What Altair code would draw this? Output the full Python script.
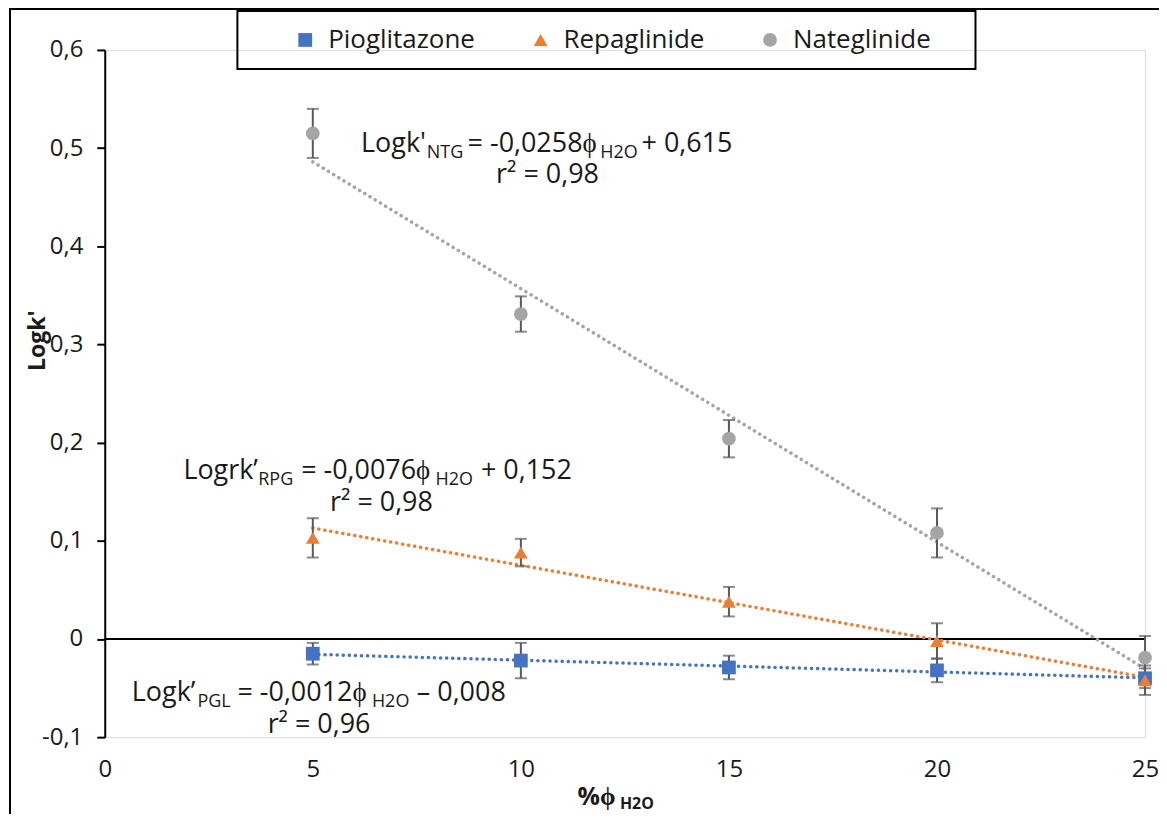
import altair as alt
import pandas as pd

# ---------------- data ----------------
phi = [5, 10, 15, 20, 25]
pgl = [-0.015, -0.022, -0.029, -0.032, -0.040]
pgl_err = [0.011, 0.018, 0.012, 0.012, 0.010]
rpg = [0.103, 0.088, 0.038, -0.002, -0.042]
rpg_err = [0.020, 0.014, 0.015, 0.018, 0.015]
ntg = [0.515, 0.331, 0.204, 0.108, -0.019]
ntg_err = [0.025, 0.018, 0.019, 0.025, 0.022]
drugs = ["Pioglitazone", "Repaglinide", "Nateglinide"]
colors = ["#4472C4", "#ED7D31", "#A5A5A5"]
shapes = ["square", "triangle-up", "circle"]
y_ticks = [-0.1, 0, 0.1, 0.2, 0.3, 0.4, 0.5, 0.6]
x_ticks = [0, 5, 10, 15, 20, 25]

rows = []
for name, vals, errs in zip(drugs, [pgl, rpg, ntg], [pgl_err, rpg_err, ntg_err]):
    for x, v, e in zip(phi, vals, errs):
        rows.append({"drug": name, "phi": x, "logk": v, "lo": v - e, "hi": v + e})
df = pd.DataFrame(rows)

FONT = "Open Sans"
TXT = "#1a1a1a"
W, H = 1043, 689

xs = alt.Scale(domain=[0, 25], nice=False, zero=False)
ys = alt.Scale(domain=[-0.1, 0.6], nice=False, zero=False)

x_axis = alt.Axis(
    values=x_ticks, domain=False, ticks=False, grid=False, title=None, labelFlush=False,
    labelFont=FONT, labelFontSize=24, labelColor=TXT, labelPadding=20)
y_axis = alt.Axis(
    values=y_ticks, grid=False, title="Logk'", titleFont=FONT, titleFontSize=23,
    titleFontWeight="bold", titleColor=TXT, titleX=-55, titleY=291,
    domainColor="black", domainWidth=2, tickColor="black", tickWidth=2, tickSize=8,
    labelFont=FONT, labelFontSize=24, labelColor=TXT, labelPadding=14, labelFlush=False,
    labelExpr="datum.value == 0 ? '0' : replace(replace(format(datum.value, '.1f'), '.', ','), '\u2212', '-')")

x_enc = alt.X("phi:Q", scale=xs, axis=x_axis)
y_enc = alt.Y("logk:Q", scale=ys, axis=y_axis)

legend = alt.Legend(
    title=None, orient="none", legendX=188, legendY=-23, direction="horizontal",
    labelFont=FONT, labelFontSize=26, labelColor=TXT, symbolSize=190, symbolStrokeWidth=0,
    columnPadding=52, labelOffset=10, padding=0)
color_enc = alt.Color("drug:N", scale=alt.Scale(domain=drugs, range=colors), legend=legend)
shape_enc = alt.Shape("drug:N", scale=alt.Scale(domain=drugs, range=shapes), legend=legend)

base = alt.Chart(df)

frame = alt.Chart(pd.DataFrame({"a": [0]})).mark_rect(
    fill="white", fillOpacity=0, stroke="black", strokeWidth=2).encode(
    x=alt.value(-95), x2=alt.value(W + 40), y=alt.value(-41), y2=alt.value(H + 120))

legend_box = alt.Chart(pd.DataFrame({"a": [0]})).mark_rect(
    fill="white", fillOpacity=0, stroke="black", strokeWidth=2).encode(
    x=alt.value(133), x2=alt.value(873), y=alt.value(-39), y2=alt.value(19))

zero_line = alt.Chart(pd.DataFrame({"a": [0]})).mark_rule(color="black", strokeWidth=2).encode(
    y=alt.datum(0))

trend = base.transform_regression("phi", "logk", groupby=["drug"]).mark_line(
    strokeWidth=3.5, strokeDash=[0.1, 6], strokeCap="round").encode(
    x=x_enc, y=y_enc, color=color_enc)

errbars = base.mark_errorbar(ticks=alt.MarkConfig(size=12, color="#595959", strokeWidth=2),
                             color="#595959", thickness=2).encode(
    x=x_enc, y=alt.Y("lo:Q", scale=ys, axis=y_axis), y2="hi:Q")

points = base.mark_point(filled=True, size=190, opacity=1).encode(
    x=x_enc, y=y_enc, color=color_enc, shape=shape_enc)


def seg(text, x, y, size, align="left", bold=False):
    return alt.Chart(pd.DataFrame({"t": [text]})).mark_text(
        align=align, baseline="middle", font=FONT, fontSize=size, color=TXT,
        fontWeight="bold" if bold else "normal").encode(
        x=alt.datum(x), y=alt.datum(y), text="t:N")


def seg_px(text, x, ypx, size, bold=False):
    return alt.Chart(pd.DataFrame({"t": [text]})).mark_text(
        align="left", baseline="middle", font=FONT, fontSize=size, color=TXT,
        fontWeight="bold" if bold else "normal").encode(
        x=alt.datum(x), y=alt.value(ypx), text="t:N")


MS, SS = 27, 18
texts = [
    # Nateglinide
    seg("Logk'", 6.16, 0.504, MS), seg("NTG", 7.74, 0.495, SS),
    seg("= -0,0258ϕ", 8.72, 0.504, MS), seg("H2O", 11.91, 0.495, SS),
    seg("+ 0,615", 12.90, 0.504, MS), seg("r² = 0,98", 10.64, 0.4726, MS, align="center"),
    # Repaglinide
    seg("Logrk’", 1.89, 0.1707, MS), seg("RPG", 3.69, 0.1617, SS),
    seg("= -0,0076ϕ", 4.72, 0.1707, MS), seg("H2O", 7.95, 0.1617, SS),
    seg("+ 0,152", 9.04, 0.1707, MS), seg("r² = 0,98", 6.65, 0.1383, MS, align="center"),
    # Pioglitazone
    seg("Logk’", 0.65, -0.0549, MS), seg("PGL", 2.23, -0.0639, SS),
    seg("= -0,0012ϕ", 3.19, -0.0549, MS), seg("H2O", 6.42, -0.0639, SS),
    seg("– 0,008", 7.50, -0.0549, MS), seg("r² = 0,96", 5.15, -0.0873, MS, align="center"),
    # x-axis title
    seg_px("%ϕ", 11.36, 749, 25, bold=True), seg_px("H2O", 12.38, 756, 16, bold=True),
]

chart = alt.layer(frame, legend_box, zero_line, trend, errbars, points, *texts).properties(
    width=W, height=H,
    autosize=alt.AutoSizeParams(type="none"),
    padding={"left": 97, "top": 41, "right": 14, "bottom": 76},
).configure_view(stroke=None).configure(background="white")

chart.save("out.html", embed_options={"renderer": "svg", "actions": False})
